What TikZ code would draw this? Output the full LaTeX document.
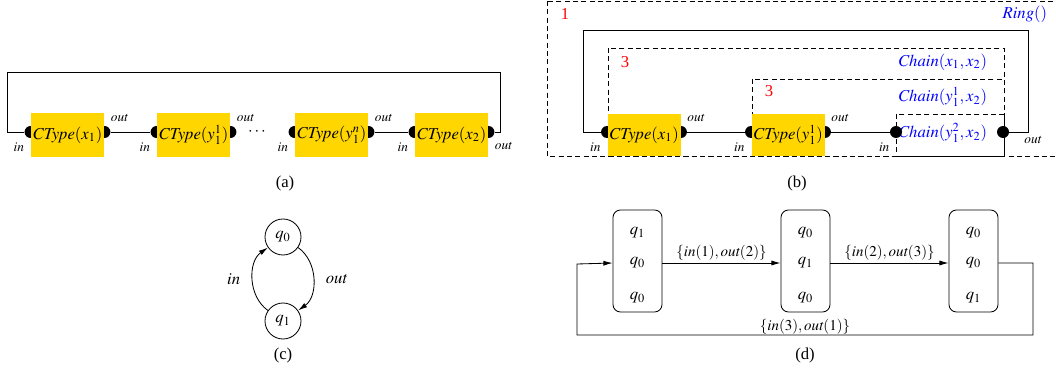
\documentclass[tikz,border=0pt]{standalone}
\usepackage{mathptmx}
\usepackage{fontspec}
\setmainfont{Liberation Serif}
\usetikzlibrary{arrows.meta,backgrounds}
\definecolor{ctfill}{RGB}{255,214,0}
\begin{document}
\begin{tikzpicture}[x=0.6pt, y=-0.6pt, line width=0.5pt,
    ctype/.style={fill=ctfill, minimum width=43.8pt, minimum height=26.4pt, inner sep=0pt},
    ctypeb/.style={ctype, minimum height=25.2pt},
    port/.style={circle, fill=black, minimum size=7.2pt, inner sep=0pt},
    lbl/.style={font=\footnotesize, inner sep=1pt},
    inl/.style={label={[lbl, yshift=-2.4pt]below left:$\mathit{in}$}},
    outl/.style={label={[lbl, yshift=2.4pt]above right:$\mathit{out}$}},
    dbox/.style={dash pattern=on 3pt off 2pt},
    qstate/.style={draw, circle, minimum size=21.6pt, inner sep=0pt},
    qbox/.style={draw, rounded corners=4.5pt, minimum width=29.4pt, minimum height=61.2pt},
    elbl/.style={font=\small, inner sep=1.5pt},
    arr/.style={-{Latex[length=5.5pt,width=3pt]}}]
    \useasboundingbox (0,0) rectangle (1056,371);

    % (a)
    \node[ctype] (a1) at (67.5,135) {$\mathit{CType}(x_1)$};
    \node[ctype] (a2) at (193.5,135) {$\mathit{CType}(y_1^1)$};
    \node[ctype] (a3) at (331.5,135) {$\mathit{CType}(y_1^n)$};
    \node[ctype] (a4) at (451.5,135) {$\mathit{CType}(x_2)$};
    \begin{scope}[on background layer]
        \node[port, yshift=1.8pt, inl] (a1in) at (a1.west) {};
        \node[port, yshift=1.8pt, outl] (a1out) at (a1.east) {};
        \node[port, yshift=1.8pt, inl] (a2in) at (a2.west) {};
        \node[port, yshift=1.8pt, outl] (a2out) at (a2.east) {};
        \node[port, yshift=1.8pt, inl] (a3in) at (a3.west) {};
        \node[port, yshift=1.8pt, outl] (a3out) at (a3.east) {};
        \node[port, yshift=1.8pt, inl] (a4in) at (a4.west) {};
        \node[port, yshift=1.8pt, label={[lbl, yshift=-2.4pt]below right:$\mathit{out}$}] (a4out) at (a4.east) {};
    \end{scope}
    \node (adots) at (257,132) {$\cdots$};
    \coordinate (aL) at (7,72);
    \coordinate (aR) at (500,132);
    \draw (a1out) -- (a2in);
    \draw (a3out) -- (a4in);
    \draw (a1in.west) -| (aL) -| (aR) -- (a4out.east);
    \node (capa) at (285,183) {(a)};

    % (b)
    \draw[dbox] (547,1) rectangle (1070,156);
    \draw[dbox] (608,48) rectangle (1004,156);
    \draw[dbox] (752,79) rectangle (1004,156);
    \draw[dbox] (896,114) rectangle (1004,156);
    \node[red] (n1) at (565,14) {1};
    \node[red] (n2) at (625,62) {3};
    \node[red] (n3) at (769,91) {3};
    \node[blue, anchor=east] (ring) at (1053,14) {$\mathit{Ring}()$};
    \node[blue, anchor=east] (ch1) at (993,62) {$\mathit{Chain}(x_1,x_2)$};
    \node[blue, anchor=east] (ch2) at (993,97) {$\mathit{Chain}(y_1^1,x_2)$};
    \node[blue, anchor=east] (ch3) at (993,133) {$\mathit{Chain}(y_1^2,x_2)$};
    \node[ctypeb] (b1) at (644,135) {$\mathit{CType}(x_1)$};
    \node[ctypeb] (b2) at (788,135) {$\mathit{CType}(y_1^1)$};
    \begin{scope}[on background layer]
        \node[port, yshift=1.8pt, inl] (b1in) at (b1.west) {};
        \node[port, yshift=1.8pt, outl] (b1out) at (b1.east) {};
        \node[port, yshift=1.8pt, inl] (b2in) at (b2.west) {};
        \node[port, yshift=1.8pt, outl] (b2out) at (b2.east) {};
    \end{scope}
    \node[port, inl] (b3in) at (896,132) {};
    \node[port] (bout) at (1003,132) {};
    \node[lbl] (boutl) at (1033,140) {$\mathit{out}$};
    \coordinate (bL) at (583,30);
    \coordinate (bR) at (1028,132);
    \draw (b1out) -- (b2in);
    \draw (b2out) -- (b3in);
    \draw (b1in.west) -| (bL) -| (bR) -- (bout);
    \node (capb) at (797,183) {(b)};

    % (c)
    \node[qstate] (q0) at (283,237) {$q_0$};
    \node[qstate] (q1) at (283,321) {$q_1$};
    \draw[arr] (q1) to[bend left=55] node[left=4pt] {$\mathit{in}$} (q0);
    \draw[arr] (q0) to[bend left=55] node[right=4pt] {$\mathit{out}$} (q1);
    \node (capc) at (283,355) {(c)};

    % (d)
    \node[qbox] (d1) at (637.5,261) {};
    \node[qbox] (d2) at (805.5,261) {};
    \node[qbox] (d3) at (973.5,261) {};
    \node (d1a) at (637.5,233) {$q_1$};
    \node (d1b) at (637.5,263) {$q_0$};
    \node (d1c) at (637.5,298) {$q_0$};
    \node (d2a) at (805.5,233) {$q_0$};
    \node (d2b) at (805.5,263) {$q_1$};
    \node (d2c) at (805.5,298) {$q_0$};
    \node (d3a) at (973.5,233) {$q_0$};
    \node (d3b) at (973.5,263) {$q_0$};
    \node (d3c) at (973.5,298) {$q_1$};
    \coordinate (dR) at (1033,335);
    \coordinate (dL) at (577,264);
    \draw[arr] (d1.east |- d1b) -- node[above, elbl] {$\{\mathit{in}(1),\mathit{out}(2)\}$} (d2.west |- d2b);
    \draw[arr] (d2.east |- d2b) -- node[above, elbl] {$\{\mathit{in}(2),\mathit{out}(3)\}$} (d3.west |- d3b);
    \draw[arr] (d3.east |- d3b) -| (dR) -| (dL) -- (d1.west |- d1b);
    \node[above, elbl, inner sep=0.5pt] (dloop) at (805,335) {$\{\mathit{in}(3),\mathit{out}(1)\}$};
    \node (capd) at (805,355) {(d)};
\end{tikzpicture}
\end{document}
